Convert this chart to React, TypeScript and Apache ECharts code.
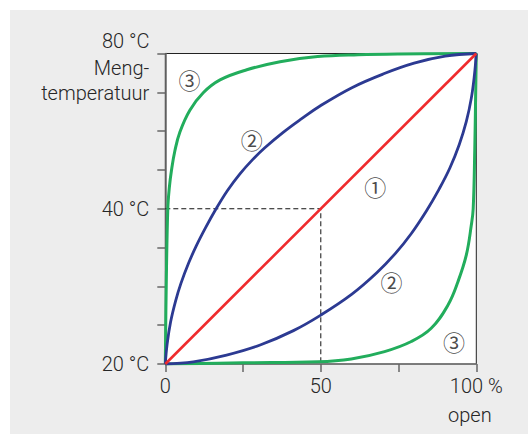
import React, { useEffect, useRef } from "react";
import * as echarts from "echarts";

// x: valve opening in %, y: position in tick units (0 = 20 °C, 4 = 40 °C, 8 = 80 °C)
const xTickLabels = ["0", "", "50", "", "100 %"];
const yTickLabels = ["20 °C", "", "", "", "40 °C", "", "", "", ""];

const redLine: [number, number][] = [
  [0, 0],
  [100, 8],
];

const blueUpper: [number, number][] = [
  [0, 0], [0.6, 0.52], [1.7, 1.08], [3.3, 1.62], [5, 2.07], [7.5, 2.6],
  [10, 3.05], [13, 3.52], [16.2, 3.98], [20, 4.47], [24, 4.9], [28, 5.26],
  [32, 5.57], [37.8, 5.96], [43.5, 6.3], [50, 6.66], [60, 7.12], [70, 7.47],
  [80, 7.75], [90, 7.93], [100, 8],
];

const blueLower: [number, number][] = [
  [0, 0], [9, 0.056], [19.7, 0.23], [30.5, 0.49], [41.2, 0.86], [50, 1.26],
  [60, 1.8], [68, 2.35], [74, 2.85], [79, 3.35], [84, 3.95], [88, 4.5],
  [91.5, 5.05], [94.5, 5.65], [96.8, 6.25], [98.4, 6.85], [99.4, 7.45], [100, 8],
];

const greenUpper: [number, number][] = [
  [0, 0], [0.3, 2.0], [0.8, 4.0], [1.3, 4.55], [2.0, 5.0], [3.1, 5.5],
  [4.7, 5.98], [7.9, 6.54], [12.2, 6.99], [17.6, 7.32], [26.2, 7.58],
  [36.9, 7.79], [49, 7.92], [62, 7.97], [75, 7.99], [100, 8],
];

const greenLower: [number, number][] = [
  [0, 0], [25, 0.03], [49.1, 0.056], [59.8, 0.13], [70.5, 0.32], [79.1, 0.58],
  [85.5, 0.92], [90.9, 1.52], [94.1, 2.12], [96.8, 2.81], [98.4, 3.58],
  [99.0, 4.0], [99.5, 5.5], [99.8, 7.0], [100, 8],
];

const guideLine: [number, number][] = [
  [0, 4],
  [50, 4],
  [50, 0],
];

const annotations: [number, number, string][] = [
  [7.8, 7.34, "③"],
  [27.8, 5.79, "②"],
  [67.5, 4.59, "①"],
  [72.7, 2.14, "②"],
  [92.8, 0.59, "③"],
];

const FONT = "Roboto";
const TEXT = "#262626";

export default function App() {
  const ref = useRef<HTMLDivElement>(null);

  useEffect(() => {
    if (!ref.current) return;
    const chart = echarts.init(ref.current, undefined, { renderer: "svg" });
    const lineSeries = (data: [number, number][], color: string, width: number) => ({
      type: "line",
      data,
      showSymbol: false,
      symbol: "none",
      smooth: 0.4,
      lineStyle: { color, width },
      silent: true,
    });
    chart.setOption({
      animation: false,
      backgroundColor: "#ededed",
      textStyle: { fontFamily: FONT },
      grid: {
        left: 155.3,
        top: 43.5,
        width: 311,
        height: 310.5,
        show: true,
        backgroundColor: "#ffffff",
        borderColor: "#222222",
        borderWidth: 1,
      },
      xAxis: {
        type: "value",
        min: 0,
        max: 100,
        interval: 25,
        axisLine: { show: true, lineStyle: { color: "#777777", width: 1.5 } },
        axisTick: { show: true, length: 8, lineStyle: { color: "#666666", width: 1.5 } },
        splitLine: { show: false },
        axisLabel: {
          margin: 12,
          fontFamily: FONT,
          fontWeight: 300,
          fontSize: 20,
          color: TEXT,
          formatter: (v: number) => xTickLabels[Math.round(v / 25)] ?? "",
        },
      },
      yAxis: {
        type: "value",
        min: 0,
        max: 8,
        interval: 1,
        axisLine: { show: true, lineStyle: { color: "#666666", width: 1.5 } },
        axisTick: { show: true, length: 8, lineStyle: { color: "#666666", width: 1.5 } },
        splitLine: { show: false },
        axisLabel: {
          margin: 16,
          fontFamily: FONT,
          fontWeight: 300,
          fontSize: 20,
          color: TEXT,
          formatter: (v: number) => yTickLabels[Math.round(v)] ?? "",
        },
      },
      graphic: [
        {
          type: "text",
          x: 139.5,
          y: 31,
          style: { text: "80 °C", font: `300 20px ${FONT}`, fill: TEXT, textAlign: "right", textVerticalAlign: "middle" },
        },
        {
          type: "text",
          x: 139.3,
          y: 58,
          style: { text: "Meng-", font: `300 20px ${FONT}`, fill: TEXT, textAlign: "right", textVerticalAlign: "middle" },
        },
        {
          type: "text",
          x: 139.3,
          y: 82.7,
          style: { text: "temperatuur", font: `300 20px ${FONT}`, fill: TEXT, textAlign: "right", textVerticalAlign: "middle" },
        },
        {
          type: "text",
          x: 438,
          y: 405,
          style: { text: "open", font: `300 20px ${FONT}`, fill: TEXT, textAlign: "left", textVerticalAlign: "middle" },
        },
      ],
      series: [
        {
          type: "line",
          data: guideLine,
          showSymbol: false,
          symbol: "none",
          lineStyle: { color: "#111111", width: 1, type: [5, 3] },
          silent: true,
          z: 1,
        },
        { ...lineSeries(greenUpper, "#22ad5c", 3), z: 2 },
        { ...lineSeries(greenLower, "#22ad5c", 3), z: 2 },
        { ...lineSeries(blueUpper, "#2c3a92", 2.8), z: 3 },
        { ...lineSeries(blueLower, "#2c3a92", 2.8), z: 3 },
        { ...lineSeries(redLine, "#ef2b2d", 2.6), smooth: false, z: 4 },
        {
          type: "scatter",
          data: annotations.map((a) => [a[0], a[1], a[2]]),
          symbolSize: 0,
          silent: true,
          z: 5,
          label: {
            show: true,
            position: "inside",
            formatter: (p: any) => p.data[2],
            fontFamily: "Noto Sans CJK SC",
            fontSize: 22,
            color: "#1a1a1a",
          },
        },
      ],
    });
    return () => chart.dispose();
  }, []);

  return (
    <div
      ref={ref}
      style={{ position: "absolute", left: 10, top: 10, width: 518, height: 424 }}
    />
  );
}
